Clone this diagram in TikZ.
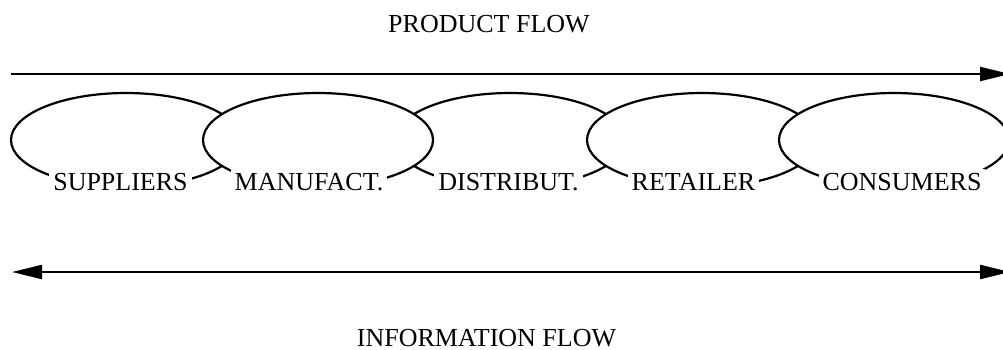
\documentclass[tikz,border=0pt]{standalone}
\usepackage{fontspec}
\setmainfont{Liberation Serif}
\usetikzlibrary{shapes.geometric,arrows.meta}
\begin{document}
\begin{tikzpicture}[x=1pt,y=-1pt,
  stage/.style={ellipse,draw,fill=white,line width=2.2pt,minimum width=230pt,minimum height=94pt,inner sep=0pt},
  lbl/.style={fill=white,inner sep=4pt,anchor=base,font=\fontsize{26}{30}\selectfont},
  title/.style={anchor=base,inner sep=0pt,font=\fontsize{26}{30}\selectfont},
  flow/.style={line width=2.2pt,-{Triangle[length=30pt,width=14pt]}},
  bothflow/.style={line width=2.2pt,{Triangle[length=30pt,width=14pt]}-{Triangle[length=30pt,width=14pt]}},
]
\useasboundingbox (0,0) rectangle (1003,349);
\clip (0,0) rectangle (1003,349);
% titles
\node[title] (pt) at (489,32) {PRODUCT FLOW};
\node[title] (it) at (486.5,346) {INFORMATION FLOW};
% arrows
\coordinate (pfs) at (11,74);
\coordinate (pfe) at (1010,74);
\coordinate (ifs) at (12,272);
\coordinate (ife) at (1010,272);
\draw[flow] (pfs) -- (pfe);
\draw[bothflow] (ifs) -- (ife);
% stages
\node[stage] (e1) at (126,140) {};
\node[stage] (e3) at (510,140) {};
\node[stage] (e2) at (318,140) {};
\node[stage] (e4) at (702,140) {};
\node[stage] (e5) at (894,140) {};
% labels
\node[lbl] (l1) at (120.5,190) {SUPPLIERS};
\node[lbl] (l2) at (309,190) {MANUFACT.};
\node[lbl] (l3) at (508.5,190) {DISTRIBUT.};
\node[lbl] (l4) at (693.5,190) {RETAILER};
\node[lbl] (l5) at (902,190) {CONSUMERS};
\end{tikzpicture}
\end{document}
